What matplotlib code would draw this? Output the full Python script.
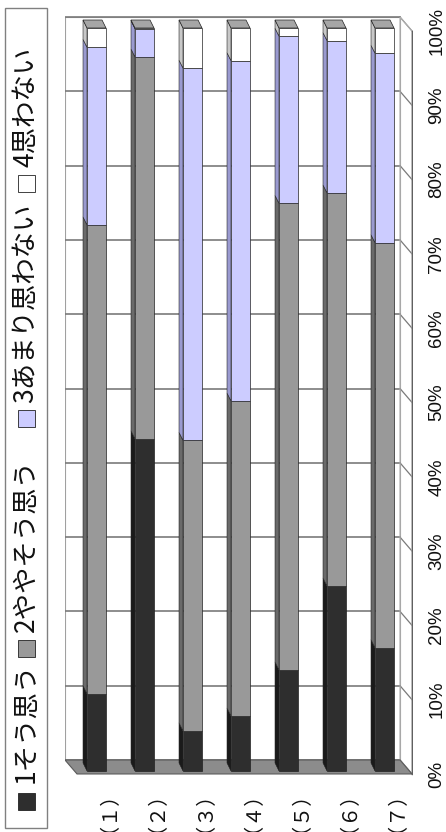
import numpy as np
import matplotlib
matplotlib.use("Agg")
import matplotlib.pyplot as plt
from matplotlib.patches import Polygon, Rectangle

plt.rcParams['font.family'] = ['Noto Sans CJK JP', 'DejaVu Sans']

# data (percent of answers per question)
cats = ['（１）', '（２）', '（３）', '（４）', '（５）', '（６）', '（７）']
names = ['1そう思う', '2ややそう思う', '3あまり思わない', '4思わない']
s1 = [10.4, 44.7, 5.4, 7.4, 13.6, 24.9, 16.6]
s2 = [63.1, 51.4, 39.1, 42.4, 62.8, 52.9, 54.5]
s3 = [23.9, 3.8, 50.1, 45.8, 22.5, 20.5, 25.5]
s4 = [2.6, 0.1, 5.4, 4.4, 1.1, 1.7, 3.4]
ticks = [0, 10, 20, 30, 40, 50, 60, 70, 80, 90, 100]
tick_labels = [f'{t}%' for t in ticks]

faces = ['#2e2e2e', '#999999', '#ccccff', '#ffffff']
sides = ['#1a1a1a', '#6a6a6a', '#9a9ad0', '#c8c8c8']
caps = ['#555555', '#8a8a8a', '#a8a8d8', '#a6a6a6']

W, H = 446, 832
fig = plt.figure(figsize=(W / 100, H / 100), dpi=100)
ax = fig.add_axes([65 / W, 1 - 776 / H, 348 / W, 761 / H])
ax.set_xlim(-0.65625, 6.59375)
ax.set_ylim(-5 / 7.43, (771 - 15) / 7.43)
ax.axis('off')

x = np.arange(len(cats))
# 3D-ish geometry (data units)
wl, wr = -0.656, 6.323      # back wall left/right
back = 1.48                 # back wall offset in y
fdx, fdy = 0.25, -1.88      # back -> front of walls
bdx, bdy = -0.083, 1.077    # front -> back of bars
bw = 0.396

# back wall + gridlines
ax.add_patch(Rectangle((wl, back), wr - wl, 100, facecolor='white',
                       edgecolor='#a0a0a0', lw=0.8, zorder=1))
for t in ticks:
    ax.plot([wl, wr], [t + back, t + back], color='#7a7a7a', lw=1.2, zorder=2)
    ax.plot([wr, wr + fdx], [t + back, t + back + fdy], color='#7a7a7a',
            lw=0.9, zorder=2)
# side wall (right)
ax.add_patch(Polygon([(wr, back), (wr, back + 100), (wr + fdx, back + 100 + fdy),
                      (wr + fdx, back + fdy)], closed=True, facecolor='none',
                     edgecolor='#b0b0b0', lw=0.8, zorder=2))
ax.plot([wr + fdx, wr + fdx], [back + fdy, back + 100 + fdy], color='#606060',
        lw=1.0, zorder=3)
# floor
ax.add_patch(Polygon([(wl, back), (wr, back), (wr + fdx, back + fdy),
                      (wl + fdx, back + fdy)], closed=True, facecolor='#8c8c8c',
                     edgecolor='#5a5a5a', lw=0.8, zorder=3))

for t, lab in zip(ticks, tick_labels):
    ax.text(wr + fdx + 0.52, t + back + fdy, lab, rotation=90, ha='center',
            va='center', fontsize=13.5, family=['Liberation Sans'], color='#111111',
            clip_on=False)

# stacked bars with side faces and top caps
bottom = np.zeros(len(cats))
series = [s1, s2, s3, s4]
for j, vals in enumerate(series):
    vals = np.array(vals)
    for i in range(len(cats)):
        xl = x[i] - bw / 2
        y0, y1 = bottom[i], bottom[i] + vals[i]
        ax.add_patch(Polygon([(xl, y0), (xl, y1), (xl + bdx, y1 + bdy),
                              (xl + bdx, y0 + bdy)], closed=True,
                             facecolor=sides[j], edgecolor='#222222', lw=0.4,
                             zorder=4))
    ax.bar(x, vals, bottom=bottom, width=bw, color=faces[j],
           edgecolor='#222222', lw=0.5, zorder=5)
    bottom = bottom + vals

for i in range(len(cats)):
    xl, xr = x[i] - bw / 2, x[i] + bw / 2
    top = bottom[i]
    ax.add_patch(Polygon([(xl, top), (xr, top), (xr + bdx, top + bdy),
                          (xl + bdx, top + bdy)], closed=True,
                         facecolor=caps[3], edgecolor='#222222', lw=0.5,
                         zorder=6))
    ax.text(x[i] + 0.04, -4.15, cats[i], rotation=90, ha='center', va='center',
            fontsize=14.5, color='#111111', clip_on=False)

# legend (rotated, drawn by hand)
fig.patches.append(Rectangle((5 / W, 1 - 828 / H), 42 / W, 820 / H,
                             transform=fig.transFigure, fill=False,
                             edgecolor='#808080', lw=1.0))
mark_y = [810, 657, 427, 192]
text_y = [783, 632, 403, 167]
for j, name in enumerate(names):
    fig.patches.append(Rectangle((18 / W, 1 - mark_y[j] / H), 17 / W, 17 / H,
                                 transform=fig.transFigure, facecolor=faces[j],
                                 edgecolor='#222222', lw=0.6))
    fig.text(26 / W, 1 - text_y[j] / H, name, rotation=90, ha='center',
             va='bottom', fontsize=19, color='#111111')

fig.savefig('out.png', dpi=100)
